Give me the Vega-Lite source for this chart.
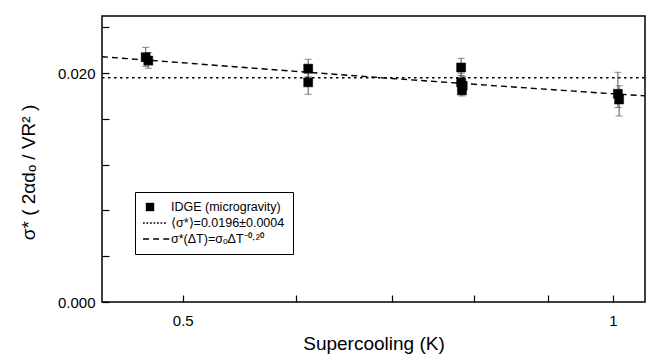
{
  "$schema": "https://vega.github.io/schema/vega-lite/v6.json",
  "width": 543,
  "height": 286,
  "autosize": {"type": "none"},
  "padding": {"left": 102, "top": 16, "right": 5, "bottom": 58},
  "background": "white",
  "config": {
    "view": {"stroke": "black", "strokeWidth": 1.5},
    "font": "Liberation Sans"
  },
  "datasets": {
    "obs": [
      {"dT": 0.471, "sigma": 0.0214, "lo": 0.0206, "hi": 0.02226, "series": "IDGE (microgravity)"},
      {"dT": 0.473, "sigma": 0.0211, "lo": 0.02043, "hi": 0.0218, "series": "IDGE (microgravity)"},
      {"dT": 0.612, "sigma": 0.0204, "lo": 0.0197, "hi": 0.02122, "series": "IDGE (microgravity)"},
      {"dT": 0.612, "sigma": 0.0192, "lo": 0.01816, "hi": 0.0200, "series": "IDGE (microgravity)"},
      {"dT": 0.783, "sigma": 0.0205, "lo": 0.0198, "hi": 0.0213, "series": "IDGE (microgravity)"},
      {"dT": 0.783, "sigma": 0.0192, "lo": 0.0185, "hi": 0.0200, "series": "IDGE (microgravity)"},
      {"dT": 0.785, "sigma": 0.0189, "lo": 0.0182, "hi": 0.0197, "series": "IDGE (microgravity)"},
      {"dT": 0.784, "sigma": 0.0185, "lo": 0.01801, "hi": 0.0192, "series": "IDGE (microgravity)"},
      {"dT": 1.008, "sigma": 0.0182, "lo": 0.0170, "hi": 0.02008, "series": "IDGE (microgravity)"},
      {"dT": 1.010, "sigma": 0.0177, "lo": 0.01626, "hi": 0.0189, "series": "IDGE (microgravity)"}
    ],
    "mean": [
      {"dT": 0.439, "sigma": 0.0196},
      {"dT": 1.053, "sigma": 0.0196}
    ],
    "fit": [
      {"dT": 0.439, "sigma": 0.02144},
      {"dT": 0.5, "sigma": 0.02091},
      {"dT": 0.6, "sigma": 0.02016},
      {"dT": 0.7, "sigma": 0.01954},
      {"dT": 0.8, "sigma": 0.01903},
      {"dT": 0.9, "sigma": 0.01859},
      {"dT": 1.0, "sigma": 0.0182},
      {"dT": 1.053, "sigma": 0.01802}
    ]
  },
  "layer": [
    {
      "data": {"name": "mean"},
      "mark": {"type": "line", "color": "black", "strokeWidth": 1.4, "strokeDash": [2.5, 3.5]},
      "encoding": {
        "x": {"field": "dT", "type": "quantitative", "title": "Supercooling (K)", "scale": {"type": "log", "domain": [0.439, 1.053], "nice": false}},
        "y": {"field": "sigma", "type": "quantitative", "title": "σ* ( 2αdₒ / VR² )", "scale": {"domain": [0, 0.025], "nice": false, "zero": false}}
      }
    },
    {
      "data": {"name": "fit"},
      "mark": {"type": "line", "color": "black", "strokeWidth": 1.4, "strokeDash": [6, 4]},
      "encoding": {
        "x": {"field": "dT", "type": "quantitative", "title": "Supercooling (K)", "scale": {"type": "log", "domain": [0.439, 1.053], "nice": false}},
        "y": {"field": "sigma", "type": "quantitative", "title": "σ* ( 2αdₒ / VR² )", "scale": {"domain": [0, 0.025], "nice": false, "zero": false}}
      }
    },
    {
      "data": {"name": "obs"},
      "mark": {"type": "errorbar", "ticks": {"size": 7, "color": "#555555", "strokeWidth": 1}, "rule": {"color": "#555555", "strokeWidth": 1}},
      "encoding": {
        "x": {"field": "dT", "type": "quantitative", "title": "Supercooling (K)", "scale": {"type": "log", "domain": [0.439, 1.053], "nice": false}},
        "y": {"field": "lo", "type": "quantitative", "title": "σ* ( 2αdₒ / VR² )", "scale": {"domain": [0, 0.025], "nice": false, "zero": false}},
        "y2": {"field": "hi"}
      }
    },
    {
      "data": {"name": "obs"},
      "mark": {"type": "point", "filled": true, "color": "black", "fill": "black", "stroke": "black", "strokeWidth": 0.5, "opacity": 1, "size": 225},
      "encoding": {
        "x": {"field": "dT", "type": "quantitative", "title": "Supercooling (K)", "scale": {"type": "log", "domain": [0.439, 1.053], "nice": false},
              "axis": {"orient": "bottom", "values": [0.5, 0.6, 0.7, 0.8, 0.9, 1], "format": "~g",
                       "labelExpr": "indexof(['0.5', '1'], datum.label) >= 0 ? datum.label : ''",
                       "domain": true, "domainOpacity": 0, "grid": false, "ticks": true, "tickColor": "black", "tickWidth": 1.2, "tickSize": 7, "offset": -7,
                       "labelPadding": 11, "labelFontSize": 15, "labelFont": "Liberation Sans", "labelColor": "black",
                       "titleFont": "Liberation Sans", "titleColor": "black", "titleFontWeight": "normal", "titleFontSize": 19, "titleY": 54, "titleBaseline": "alphabetic"}},
        "y": {"field": "sigma", "type": "quantitative", "title": "σ* ( 2αdₒ / VR² )", "scale": {"domain": [0, 0.025], "nice": false, "zero": false},
              "axis": {"orient": "left", "values": [0, 0.001, 0.002, 0.003, 0.004, 0.005, 0.006, 0.007, 0.008, 0.009, 0.01, 0.011, 0.012, 0.013, 0.014, 0.015, 0.016, 0.017, 0.018, 0.019, 0.02, 0.021, 0.022, 0.023, 0.024, 0.025],
                       "format": ".3f",
                       "labelExpr": "indexof(['0.000', '0.005', '0.010', '0.015', '0.020', '0.025'], datum.label) >= 0 ? datum.label : ''",
                       "domain": true, "domainOpacity": 0, "grid": false, "ticks": true, "tickColor": "black", "tickWidth": 1.2, "tickSize": 7, "offset": -7,
                       "labelPadding": 7, "labelFontSize": 15, "labelFont": "Liberation Sans", "labelColor": "black",
                       "titleFont": "Liberation Sans", "titleColor": "black", "titleFontWeight": "normal", "titleFontSize": 19, "titleAngle": -90, "titleX": -81, "titleY": 156, "titleBaseline": "middle"}},
        "shape": {"field": "series", "type": "nominal",
                  "scale": {"domain": ["IDGE (microgravity)", "⟨σ*⟩=0.0196±0.0004", "σ*(ΔT)=σₒΔT⁻⁰·²⁰"],
                            "range": ["M-0.6,-0.6H0.6V0.6H-0.6Z",
                                      "M-1,-0.1H-0.75V0.1H-1ZM-0.5,-0.1H-0.25V0.1H-0.5ZM0,-0.1H0.25V0.1H0ZM0.5,-0.1H0.75V0.1H0.5ZM1,-0.1H1.25V0.1H1ZM1.5,-0.1H1.75V0.1H1.5ZM2,-0.1H2.25V0.1H2Z",
                                      "M-1,-0.1H-0.15V0.1H-1ZM0.45,-0.1H1.3V0.1H0.45ZM1.9,-0.1H2.75V0.1H1.9Z"]},
                  "legend": {"orient": "none", "legendX": 33, "legendY": 176, "title": null, "padding": 8,
                             "strokeColor": "black", "fillColor": "white", "symbolSize": 196,
                             "symbolFillColor": "black", "symbolStrokeColor": "black", "symbolStrokeWidth": 0, "symbolOpacity": 1,
                             "labelFontSize": 12.5, "labelFont": "Liberation Sans", "labelColor": "black", "labelOffset": 14, "rowPadding": 2, "labelLimit": 300,
                             "encode": {"symbols": {"update": {"fill": {"value": "black"}, "opacity": {"value": 1}}}}}}
      }
    }
  ]
}
